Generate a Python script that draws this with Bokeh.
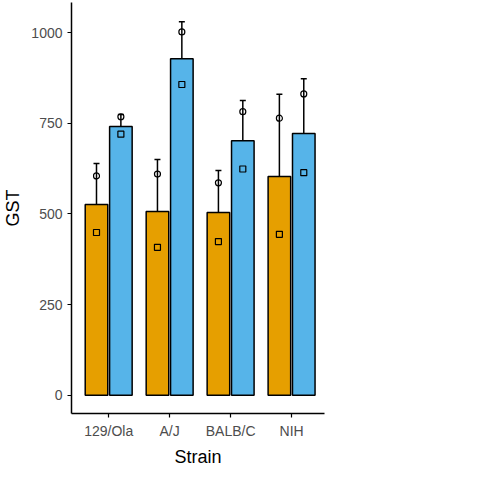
from bokeh.plotting import figure
from bokeh.models import ColumnDataSource, FixedTicker, Legend, LegendItem, Whisker
from bokeh.embed import file_html
from bokeh.resources import INLINE

strains = ["129/Ola", "A/J", "BALB/C", "NIH"]
treatments = ["Control", "Treated"]
mean_control = [526, 507, 504, 603]
mean_treated = [741, 928, 702, 722]
lo_control = [416, 366, 390, 380]
hi_control = [639, 650, 620, 830]
lo_treated = [711, 829, 590, 572]
hi_treated = [774, 1030, 813, 873]
blockA_control = [449, 408, 424, 444]
blockA_treated = [720, 857, 624, 614]
blockB_control = [605, 610, 586, 764]
blockB_treated = [768, 1002, 782, 831]
colors = ["#E69F00", "#56B4E9"]

F = "Liberation Sans"
p = figure(frame_width=253, frame_height=411, output_backend="svg", toolbar_location=None,
           x_range=(0.39, 4.54), y_range=(-50, 1083),
           min_border_left=70, min_border_top=2, min_border_bottom=43, min_border_right=133)
p.xgrid.visible = False
p.ygrid.visible = False
p.outline_line_color = None

xs = list(range(1, 5))
off = 0.2
renderers = []
for k, (m, lo, hi, a, b) in enumerate([
        (mean_control, lo_control, hi_control, blockA_control, blockB_control),
        (mean_treated, lo_treated, hi_treated, blockA_treated, blockB_treated)]):
    x = [v + (-off if k == 0 else off) for v in xs]
    src = ColumnDataSource(dict(x=x, top=m, lo=lo, hi=hi, a=a, b=b))
    r = p.vbar(x="x", top="top", bottom=0, width=0.37, source=src,
               fill_color=colors[k], line_color="black", line_width=1.5)
    renderers.append(r)
    w = Whisker(base="x", lower="lo", upper="hi", source=src, line_color="black", line_width=1.5)
    w.upper_head.size = 6; w.lower_head.size = 6
    w.upper_head.line_width = 1.5; w.lower_head.line_width = 1.5
    p.add_layout(w)
    ra = p.scatter(x="x", y="a", source=src, marker="square", size=6, fill_color=None,
                   line_color="black", line_width=1.2)
    rb = p.scatter(x="x", y="b", source=src, marker="circle", size=6, fill_color=None,
                   line_color="black", line_width=1.2)
    if k == 0:
        markA, markB = ra, rb

p.xaxis.ticker = FixedTicker(ticks=xs)
p.xaxis.major_label_overrides = {i + 1: s for i, s in enumerate(strains)}
p.yaxis.ticker = FixedTicker(ticks=[0, 250, 500, 750, 1000])
for ax in (p.xaxis[0], p.yaxis[0]):
    ax.axis_line_width = 1.5
    ax.major_tick_line_width = 1.2
    ax.major_tick_in = 0
    ax.major_tick_out = 4
    ax.minor_tick_line_color = None
    ax.major_label_text_font = F
    ax.major_label_text_font_size = "14px"
    ax.major_label_text_color = "#4d4d4d"
    ax.axis_label_text_font = F
    ax.axis_label_text_font_size = "18px"
    ax.axis_label_text_font_style = "normal"
    ax.axis_label_text_color = "black"
p.xaxis.axis_label = "Strain"
p.yaxis.axis_label = "GST"

def style(lg):
    lg.title_text_font = F
    lg.title_text_font_size = "18px"
    lg.title_text_font_style = "normal"
    lg.title_text_color = "black"
    lg.label_text_font = F
    lg.label_text_font_size = "14px"
    lg.label_text_color = "black"
    lg.border_line_color = None
    lg.background_fill_alpha = 0
    lg.glyph_width = 16
    lg.glyph_height = 16
    lg.spacing = 0
    lg.padding = 4
    lg.label_height = 14
    lg.title_standoff = 8

lg1 = Legend(items=[LegendItem(label="A", renderers=[markA]), LegendItem(label="B", renderers=[markB])],
             title="Block", location=(282, 222))
lg2 = Legend(items=[LegendItem(label=t, renderers=[renderers[i]]) for i, t in enumerate(treatments)],
             title="Treatment", location=(282, 117))
style(lg1); style(lg2)
p.add_layout(lg1, "center")
p.add_layout(lg2, "center")

open("out.html", "w").write(file_html(p, INLINE))
